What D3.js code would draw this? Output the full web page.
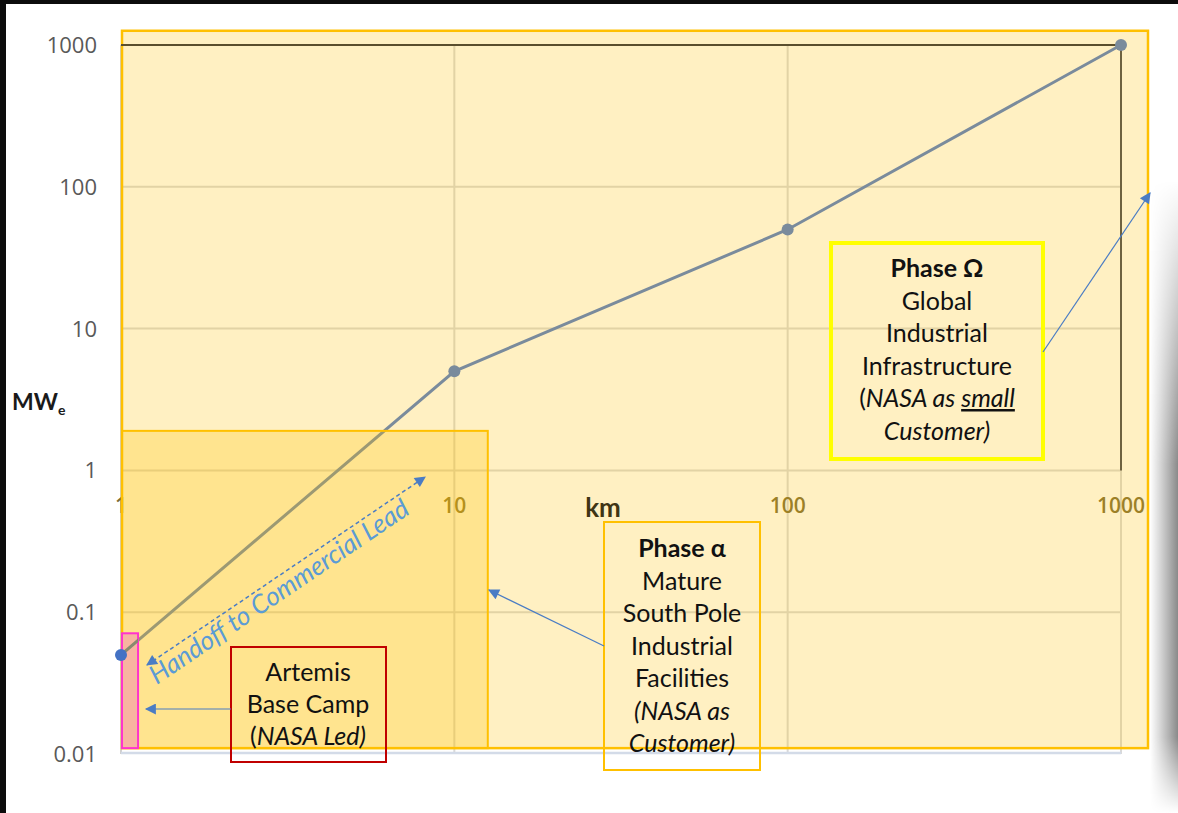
<!DOCTYPE html>
<html>
<head>
<meta charset="utf-8">
<script src="https://cdn.jsdelivr.net/npm/d3@7"></script>
<style>
  body { margin: 0; background: #fff; }
  svg { display: block; }
</style>
</head>
<body>
<svg id="chart" width="1178" height="813"></svg>
<script>
// series: distance (km) vs electric power (MWe)
const km = [1, 10, 100, 1000];
const mwe = [0.05, 5, 50, 1000];
const xTicks = [1, 10, 100, 1000];
const xTickLabels = ["1", "10", "100", "1000"];
const yTicks = [0.01, 0.1, 1, 10, 100, 1000];
const yTickLabels = ["0.01", "0.1", "1", "10", "100", "1000"];
// shaded phase regions in data units: [x0, x1, y0, y1]
const omegaRegion = [1, 1205, 0.011, 1260];
const alphaRegion = [1, 12.6, 0.011, 1.9];
const artemisRegion = [1, 1.125, 0.011, 0.071];
// annotation text
const artemisText = [["Artemis"], ["Base Camp"], ["(", "NASA Led)"]];
const alphaText = ["Phase \u03b1", "Mature", "South Pole", "Industrial", "Facilities", "(NASA as", "Customer)"];
const omegaText = ["Phase \u03a9", "Global", "Industrial", "Infrastructure", "(NASA as small", "Customer)"];
const handoffLabel = "Handoff to Commercial Lead";

const svg = d3.select("#chart");
const W = 1178, H = 813;

const x = d3.scaleLog().domain([1, 1000]).range([121, 1121]);
const y = d3.scaleLog().domain([0.01, 1000]).range([754, 45]);

const defs = svg.append("defs");
defs.append("marker")
  .attr("id", "arrow")
  .attr("viewBox", "0 0 10 10")
  .attr("refX", 9).attr("refY", 5)
  .attr("markerWidth", 14).attr("markerHeight", 11)
  .attr("markerUnits", "userSpaceOnUse")
  .attr("orient", "auto-start-reverse")
  .append("path").attr("d", "M0,0 L10,5 L0,10 z").attr("fill", "#4a7cc4");

// right-side drop shadow
const sg = defs.append("linearGradient").attr("id", "shadowH").attr("x1", 0).attr("x2", 1);
sg.append("stop").attr("offset", "0").attr("stop-color", "#ffffff");
sg.append("stop").attr("offset", "0.35").attr("stop-color", "#d8d8d8");
sg.append("stop").attr("offset", "1").attr("stop-color", "#8a8a8a");
const sv = defs.append("linearGradient").attr("id", "shadowV").attr("x1", 0).attr("x2", 0).attr("y1", 0).attr("y2", 1);
sv.append("stop").attr("offset", "0").attr("stop-color", "#fff").attr("stop-opacity", 0);
sv.append("stop").attr("offset", "0.45").attr("stop-color", "#fff").attr("stop-opacity", 1);
sv.append("stop").attr("offset", "0.88").attr("stop-color", "#fff").attr("stop-opacity", 1);
sv.append("stop").attr("offset", "1").attr("stop-color", "#fff").attr("stop-opacity", 0);
const mask = defs.append("mask").attr("id", "shadowMask");
mask.append("rect").attr("x", 1150).attr("y", 180).attr("width", 28).attr("height", 633).attr("fill", "url(#shadowV)");
svg.append("rect").attr("x", 1150).attr("y", 180).attr("width", 28).attr("height", 633)
  .attr("fill", "url(#shadowH)").attr("mask", "url(#shadowMask)");

// black frame edges
svg.append("rect").attr("x", 0).attr("y", 0).attr("width", W).attr("height", 4).attr("fill", "#0c0c0c");
svg.append("rect").attr("x", 0).attr("y", 0).attr("width", 6).attr("height", H).attr("fill", "#0c0c0c");

// gridlines
const grid = svg.append("g");
grid.selectAll(".gy").data(yTicks.filter(d => d > 0.01 && d < 1000)).join("line")
  .attr("x1", x(1)).attr("x2", x(1000))
  .attr("y1", d => y(d)).attr("y2", d => y(d))
  .attr("stroke", "#d9d9d9").attr("stroke-width", 2);
grid.selectAll(".gx").data(xTicks.filter(d => d > 1)).join("line")
  .attr("x1", d => x(d)).attr("x2", d => x(d))
  .attr("y1", y(1000)).attr("y2", y(0.01))
  .attr("stroke", "#d9d9d9").attr("stroke-width", 2);

// axis lines
svg.append("line").attr("x1", x(1)).attr("x2", x(1)).attr("y1", y(1000)).attr("y2", y(0.01))
  .attr("stroke", "#d0d0d0").attr("stroke-width", 2);
svg.append("line").attr("x1", x(1)).attr("x2", x(1000)).attr("y1", y(0.01) - 1).attr("y2", y(0.01) - 1)
  .attr("stroke", "#d3dbe8").attr("stroke-width", 2.5);

// x tick labels (axis crosses at 1 MWe)
svg.append("g").selectAll("text").data(xTicks).join("text")
  .attr("x", d => x(d)).attr("y", y(1) + 43)
  .attr("text-anchor", "middle")
  .attr("font-family", "Open Sans, sans-serif").attr("font-weight", 600).attr("font-size", 21)
  .attr("fill", "#7d6c34")
  .text((d, i) => xTickLabels[i]);

// outer phase region (semi-transparent amber)
svg.append("rect")
  .attr("x", x(omegaRegion[0]) + 1).attr("y", y(omegaRegion[3]))
  .attr("width", x(omegaRegion[1]) - x(omegaRegion[0]) - 1)
  .attr("height", y(omegaRegion[2]) - y(omegaRegion[3]))
  .attr("fill", "#ffc000").attr("fill-opacity", 0.24)
  .attr("stroke", "#ffc000").attr("stroke-width", 2.5);

// dark frame lines at 1000
svg.append("line").attr("x1", x(1)).attr("x2", x(1000)).attr("y1", y(1000)).attr("y2", y(1000))
  .attr("stroke", "#5a4e2c").attr("stroke-width", 2);
svg.append("line").attr("x1", x(1000)).attr("x2", x(1000)).attr("y1", y(1000)).attr("y2", y(1))
  .attr("stroke", "#6e6240").attr("stroke-width", 2);

// series line and points
const line = d3.line().x((d, i) => x(km[i])).y(d => y(d));
svg.append("path").datum(mwe)
  .attr("fill", "none").attr("stroke", "#7a8b9c").attr("stroke-width", 3)
  .attr("d", line);

// alpha region
svg.append("rect")
  .attr("x", x(alphaRegion[0]) + 1).attr("y", y(alphaRegion[3]))
  .attr("width", x(alphaRegion[1]) - x(alphaRegion[0]) - 1)
  .attr("height", y(alphaRegion[2]) - y(alphaRegion[3]))
  .attr("fill", "#ffc000").attr("fill-opacity", 0.26)
  .attr("stroke", "#ffc000").attr("stroke-width", 2);

// artemis region
const ax0 = x(artemisRegion[0]) + 1, ay0 = y(artemisRegion[3]);
const aw = x(artemisRegion[1]) - x(artemisRegion[0]) - 1, ah = y(artemisRegion[2]) - y(artemisRegion[3]);
svg.append("rect")
  .attr("x", ax0).attr("y", ay0).attr("width", aw).attr("height", ah)
  .attr("fill", "#f8b4a0")
  .attr("stroke", "#ff33cc").attr("stroke-width", 2);
// series line stays visible across the artemis bar
defs.append("clipPath").attr("id", "artClip").append("rect")
  .attr("x", ax0).attr("y", ay0).attr("width", aw).attr("height", ah);
svg.append("path").datum(mwe)
  .attr("fill", "none").attr("stroke", "#8a8a6e").attr("stroke-width", 3)
  .attr("clip-path", "url(#artClip)")
  .attr("d", line);

svg.append("g").selectAll("circle").data(mwe).join("circle")
  .attr("cx", (d, i) => x(km[i])).attr("cy", d => y(d)).attr("r", 6)
  .attr("fill", (d, i) => i === 0 ? "#4472c4" : "#7a8b9c");

// y tick labels
svg.append("g").selectAll("text").data(yTicks).join("text")
  .attr("x", 97).attr("y", d => y(d) + 8)
  .attr("text-anchor", "end")
  .attr("font-family", "Open Sans, sans-serif").attr("font-size", 22)
  .attr("fill", "#595959")
  .text((d, i) => yTickLabels[i]);

// axis titles
const yt = svg.append("text").attr("x", 12).attr("y", 410)
  .attr("font-family", "Lato, sans-serif").attr("font-weight", 700).attr("font-size", 23).attr("fill", "#1a1a1a");
yt.append("tspan").text("MW");
yt.append("tspan").attr("font-size", 14).attr("dy", 5).text("e");
svg.append("text").attr("x", 603).attr("y", 517).attr("text-anchor", "middle")
  .attr("font-family", "Lato, sans-serif").attr("font-weight", 700).attr("font-size", 26)
  .attr("fill", "#3f3514").text("km");

// handoff double arrow
const hx0 = 147, hy0 = 665, hx1 = 425, hy1 = 477;
svg.append("line").attr("x1", hx0).attr("y1", hy0).attr("x2", hx1).attr("y2", hy1)
  .attr("stroke", "#4a7cc4").attr("stroke-width", 1.5).attr("stroke-dasharray", "4,3")
  .attr("marker-start", "url(#arrow)").attr("marker-end", "url(#arrow)");
const ang = Math.atan2(hy1 - hy0, hx1 - hx0) * 180 / Math.PI;
svg.append("text")
  .attr("transform", `translate(284,599) rotate(${ang})`)
  .attr("text-anchor", "middle")
  .attr("font-family", "Lato, sans-serif").attr("font-style", "italic").attr("font-size", 26)
  .attr("fill", "#5b9bd5").text(handoffLabel);

// callout boxes
function callout(bx, by, bw, bh, stroke, sw) {
  svg.append("rect").attr("x", bx).attr("y", by).attr("width", bw).attr("height", bh)
    .attr("fill", "none").attr("stroke", stroke).attr("stroke-width", sw);
}
const txt = (cx, cy) => svg.append("text").attr("x", cx).attr("y", cy).attr("text-anchor", "middle")
  .attr("font-family", "Lato, sans-serif").attr("font-size", 25).attr("fill", "#111");

// Artemis
callout(231, 647, 155, 115, "#c00000", 2);
artemisText.forEach((parts, i) => {
  const t = txt(308, 681 + i * 32);
  if (parts.length === 1) t.text(parts[0]);
  else { t.append("tspan").text(parts[0]); t.append("tspan").attr("font-style", "italic").text(parts[1]); }
});
svg.append("line").attr("x1", 231).attr("y1", 709).attr("x2", 146).attr("y2", 709)
  .attr("stroke", "#4a7cc4").attr("stroke-width", 1.2).attr("marker-end", "url(#arrow)");

// Phase alpha
callout(604, 522, 156, 248, "#ffc000", 2);
alphaText.forEach((s, i) => {
  const t = txt(682, 557 + i * 32.5).text(s);
  if (i === 0) t.attr("font-weight", 700);
  if (i >= 5) t.attr("font-style", "italic");
});
svg.append("line").attr("x1", 604).attr("y1", 646).attr("x2", 489).attr("y2", 590)
  .attr("stroke", "#4a7cc4").attr("stroke-width", 1.2).attr("marker-end", "url(#arrow)");

// Phase omega
callout(831, 243, 212, 216, "#ffff00", 4);
omegaText.forEach((s, i) => {
  const t = txt(937, 277 + i * 32.5);
  if (i === 0) t.attr("font-weight", 700).text(s);
  else if (i === 4) {
    t.append("tspan").text("(");
    t.append("tspan").attr("font-style", "italic").text("NASA as ");
    t.append("tspan").attr("font-style", "italic").attr("text-decoration", "underline").text("small");
  } else if (i === 5) t.attr("font-style", "italic").text(s);
  else t.text(s);
});
svg.append("line").attr("x1", 1043).attr("y1", 352).attr("x2", 1150).attr("y2", 193)
  .attr("stroke", "#4a7cc4").attr("stroke-width", 1.2).attr("marker-end", "url(#arrow)");
</script>
</body>
</html>
